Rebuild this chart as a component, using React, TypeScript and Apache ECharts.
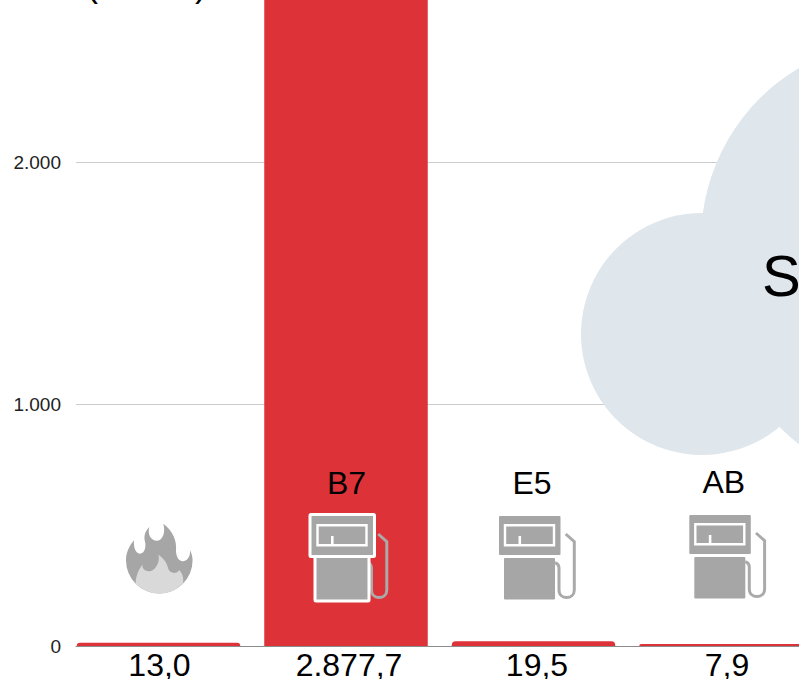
import React, { useEffect, useRef } from "react";
import * as echarts from "echarts";

const valueLabels = ["13,0", "2.877,7", "19,5", "7,9"];
const values = [13.0, 2877.7, 19.5, 7.9];
const fuelLabels = ["", "B7", "E5", "AB"];
const iconKinds = ["flame", "pump", "pump", "pump"];
const cloudLabel = "S";

const RED = "#dd3238";
const GRAY = "#a6a6a6";
const FONT = '"Liberation Sans", Arial, sans-serif';

// Flame drawn in a 240-unit box (zoomed coordinates)
const flameOuter =
  "M18 127 C18 105 27 85 42 67 C40 90 48 108 60 107 C72 106 78 92 76 75 C70 55 75 40 88 27 C82 50 93 68 110 68 C127 68 138 45 130 17 C158 38 172 68 168 100 C170 120 178 131 190 130 C205 127 212 112 210 96 C215 106 218 116 218 127 A100 100 0 0 1 18 127 Z";
const flameInner =
  "M115 110 C122 130 106 160 86 160 C73 160 65 150 68 140 C55 155 47 178 47 197 A100 100 0 0 0 189 197 C192 180 188 167 178 156 C172 168 152 168 146 155 C142 138 134 122 115 110 Z";
echarts.graphic.registerShape("flameOuter", echarts.graphic.extendPath(flameOuter, {}));
echarts.graphic.registerShape("flameInner", echarts.graphic.extendPath(flameInner, {}));

const hose =
  "M21.5 52.7 C24 53.5 25.5 55 25.5 58 L25.5 80 C25.5 90 40.8 90 40.8 80 L40.8 31.7 L32.2 24";
const pumpHose = "pumpHose";
echarts.graphic.registerShape(pumpHose, echarts.graphic.extendPath(hose, {}));

function pumpChildren(outlined: boolean) {
  const edge = outlined ? { stroke: "#fff", lineWidth: 3 } : {};
  const grow = outlined ? 1.5 : 0;
  return [
    {
      type: pumpHose,
      x: 0,
      y: 510,
      style: { fill: "none", stroke: "#aaaaaa", lineWidth: 3 },
    },
    {
      type: "rect",
      shape: { x: -29.5 - grow, y: 558 - grow, width: 51 + 2 * grow, height: 41.5 + 2 * grow, r: 1 },
      style: { fill: GRAY, ...edge },
    },
    {
      type: "rect",
      shape: { x: -34.5 - grow, y: 516 - grow, width: 61.5 + 2 * grow, height: 39 + 2 * grow, r: 1 },
      style: { fill: GRAY, ...edge },
    },
    {
      type: "rect",
      shape: { x: -28.5, y: 525.3, width: 49, height: 20 },
      style: { fill: "none", stroke: "#fff", lineWidth: 2.4 },
    },
    {
      type: "rect",
      shape: { x: -15, y: 536, width: 2.6, height: 8.5 },
      style: { fill: "#fff" },
    },
  ];
}

function flameChildren() {
  const s = 1 / 3;
  return [
    { type: "flameOuter", x: -38.5, y: 518, scaleX: s, scaleY: s, style: { fill: GRAY } },
    { type: "flameInner", x: -38.5, y: 518, scaleX: s, scaleY: s, style: { fill: "#d9d9d9" } },
  ];
}

const iconNudgeX = [0, 0, 0, 2.8];
const iconNudgeY = [0, 0, 0, -1];
const fuelTextNudgeX = [0, 0.5, -1.5, 0];
const valueTextNudgeX = [1, 3, 3.5, 6];

export default function App() {
  const ref = useRef<HTMLDivElement>(null);
  useEffect(() => {
    document.body.style.margin = "0";
    document.body.style.overflow = "hidden";
    const chart = echarts.init(ref.current!, undefined, { renderer: "svg" });
    chart.setOption({
      animation: false,
      backgroundColor: "#fff",
      textStyle: { fontFamily: FONT },
      grid: [
        { left: 76, top: -80, width: 740, height: 726, outerBoundsMode: "none" },
        { left: 64.75, top: -80, width: 750, height: 726, outerBoundsMode: "none" },
      ],
      xAxis: [
        {
          type: "value",
          gridIndex: 0,
          min: 0,
          max: 1,
          axisLabel: { show: false },
          axisTick: { show: false },
          splitLine: { show: false },
          axisLine: { show: true, lineStyle: { color: "#8c8c8c", width: 1 } },
        },
        {
          type: "category",
          gridIndex: 1,
          data: valueLabels,
          axisLine: { show: false },
          axisTick: { show: false },
          axisLabel: { show: false },
        },
      ],
      yAxis: [
        {
          type: "value",
          gridIndex: 0,
          min: 0,
          max: 3000,
          interval: 1000,
          axisLine: { show: false },
          axisTick: { show: false },
          axisLabel: {
            color: "#222",
            fontSize: 19,
            fontFamily: FONT,
            margin: 15,
            padding: [0, 0, 2, 0],
            formatter: (v: number) => (v === 0 ? "0" : `${v / 1000}.000`),
          },
          splitLine: { show: true, lineStyle: { color: "#cccccc", width: 1 } },
        },
        { type: "value", gridIndex: 1, min: 0, max: 3000, show: false, splitLine: { show: false } },
      ],
      series: [
        {
          type: "bar",
          xAxisIndex: 1,
          yAxisIndex: 1,
          data: values,
          barWidth: 163.5,
          itemStyle: { color: RED, borderRadius: [4, 4, 0, 0] },
        },
        {
          type: "custom",
          xAxisIndex: 1,
          yAxisIndex: 1,
          data: values,
          z: 5,
          clip: false,
          renderItem: (params: any, api: any) => {
            const i = params.dataIndex;
            const base = api.coord([i, 0]);
            const cx = base[0] + iconNudgeX[i];
            const children: any[] =
              iconKinds[i] === "flame" ? flameChildren() : pumpChildren(i === 1);
            if (fuelLabels[i]) {
              children.push({
                type: "text",
                x: fuelTextNudgeX[i],
                y: 482.5,
                style: {
                  text: fuelLabels[i],
                  fill: "#000",
                  font: `32px ${FONT}`,
                  textAlign: "center",
                  textVerticalAlign: "middle",
                },
              });
            }
            const icon = { type: "group", x: cx, y: iconNudgeY[i], children };
            const valueText = {
              type: "text",
              x: base[0] + valueTextNudgeX[i],
              y: base[1] + 3,
              style: {
                text: valueLabels[i],
                fill: "#000",
                font: `32px ${FONT}`,
                textAlign: "center",
                textVerticalAlign: "top",
              },
            };
            return { type: "group", children: [icon, valueText] };
          },
        },
      ],
      graphic: [
        { type: "circle", z: 20, shape: { cx: 901, cy: 240, r: 200 }, style: { fill: "#dfe6ec" } },
        { type: "circle", z: 20, shape: { cx: 702, cy: 334, r: 121 }, style: { fill: "#dfe6ec" } },
        { type: "circle", z: 20, shape: { cx: 915, cy: 295, r: 189 }, style: { fill: "#dfe6ec" } },
        {
          type: "text",
          z: 21,
          x: 762,
          y: 275.5,
          style: { text: cloudLabel, fill: "#000", font: `58px ${FONT}`, textVerticalAlign: "middle" },
        },
        {
          type: "text",
          z: 21,
          x: 98,
          y: 1,
          style: { text: "(", fill: "#000", font: `36px ${FONT}`, textAlign: "right", textVerticalAlign: "bottom" },
        },
        {
          type: "text",
          z: 21,
          x: 195,
          y: 1,
          style: { text: ")", fill: "#000", font: `36px ${FONT}`, textAlign: "left", textVerticalAlign: "bottom" },
        },
      ],
    });
    return () => chart.dispose();
  }, []);
  return <div ref={ref} style={{ position: "absolute", left: 0, top: 0, width: 799, height: 679 }} />;
}
